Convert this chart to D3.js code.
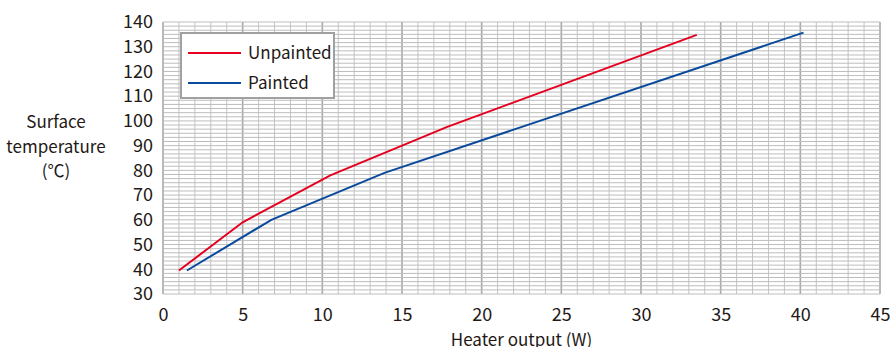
<!DOCTYPE html>
<html>
<head>
<meta charset="utf-8">
<script src="https://cdn.jsdelivr.net/npm/d3@7"></script>
<style>
  body { margin: 0; background: #fff; }
  text { font-family: "Noto Sans CJK JP", "Noto Sans", sans-serif; fill: #231815; }
</style>
</head>
<body>
<svg id="chart" width="893" height="347"></svg>
<script>
// values
const xTicks = [0, 5, 10, 15, 20, 25, 30, 35, 40, 45];
const yTicks = [30, 40, 50, 60, 70, 80, 90, 100, 110, 120, 130, 140];

const unpaintedX = [1, 5, 10.5, 17.8, 33.5];
const unpaintedY = [39.5, 59, 78, 97.5, 134.8];
const paintedX = [1.5, 6.8, 13.9, 40.2];
const paintedY = [39.5, 60, 79, 135.7];

const seriesNames = ["Unpainted", "Painted"];
const seriesColors = ["#e60020", "#0a4a9c"];

const margin = { top: 22, right: 13, bottom: 53, left: 163 };
const width = 893 - margin.left - margin.right;
const height = 347 - margin.top - margin.bottom;

const svg = d3.select("#chart");
const g = svg.append("g").attr("transform", `translate(${margin.left},${margin.top})`);

const x = d3.scaleLinear().domain([0, 45]).range([0, width]);
const y = d3.scaleLinear().domain([30, 140]).range([height, 0]);

// grid: vertical every 1 W (darker every 5), horizontal 6 lines per 10 degrees
g.append("g").selectAll("line")
  .data(d3.range(0, 46, 1))
  .join("line")
  .attr("x1", d => x(d)).attr("x2", d => x(d))
  .attr("y1", 0).attr("y2", height)
  .attr("stroke", d => d % 5 === 0 ? "#a8a8a8" : "#c4c4c4")
  .attr("stroke-width", d => d % 5 === 0 ? 1.6 : 1);

g.append("g").selectAll("line")
  .data(d3.range(0, 67).map(i => 30 + i * 10 / 6))
  .join("line")
  .attr("x1", 0).attr("x2", width)
  .attr("y1", d => y(d)).attr("y2", d => y(d))
  .attr("stroke", "#bdbdbd")
  .attr("stroke-width", 1);

// axes (labels only, no domain line)
const xAxis = g.append("g")
  .attr("transform", `translate(0,${height})`)
  .call(d3.axisBottom(x).tickValues(xTicks).tickSize(0).tickPadding(14));
xAxis.select(".domain").remove();
xAxis.selectAll("text").attr("font-size", 18).style("font-family", null);

const yAxis = g.append("g")
  .call(d3.axisLeft(y).tickValues(yTicks).tickSize(0).tickPadding(10));
yAxis.select(".domain").remove();
yAxis.selectAll("text").attr("font-size", 18).style("font-family", null);

// lines
const line = d3.line().x(d => x(d[0])).y(d => y(d[1]));
const series = [
  d3.zip(unpaintedX, unpaintedY),
  d3.zip(paintedX, paintedY)
];
g.selectAll(".series")
  .data(series)
  .join("path")
  .attr("class", "series")
  .attr("fill", "none")
  .attr("stroke", (d, i) => seriesColors[i])
  .attr("stroke-width", 2)
  .attr("d", line);

// legend
const legend = g.append("g").attr("transform", "translate(18,11)");
legend.append("rect")
  .attr("width", 153).attr("height", 65)
  .attr("fill", "#fff")
  .attr("stroke", "#a0a0a0")
  .attr("stroke-width", 2);
seriesNames.forEach((name, i) => {
  const ly = 20 + i * 30;
  legend.append("line")
    .attr("x1", 7).attr("x2", 60)
    .attr("y1", ly).attr("y2", ly)
    .attr("stroke", seriesColors[i]).attr("stroke-width", 2);
  legend.append("text")
    .attr("x", 67).attr("y", ly)
    .attr("dy", "0.35em")
    .attr("font-size", 17)
    .text(name);
});

// axis titles
svg.append("text")
  .attr("x", margin.left + x(22.5))
  .attr("y", 346)
  .attr("text-anchor", "middle")
  .attr("font-size", 17)
  .text("Heater output (W)");

const yTitle = svg.append("text")
  .attr("text-anchor", "middle")
  .attr("font-size", 17);
["Surface", "temperature", "(℃)"].forEach((t, i) => {
  yTitle.append("tspan")
    .attr("x", 56)
    .attr("y", 128 + i * 24.5)
    .text(t);
});
</script>
</body>
</html>
